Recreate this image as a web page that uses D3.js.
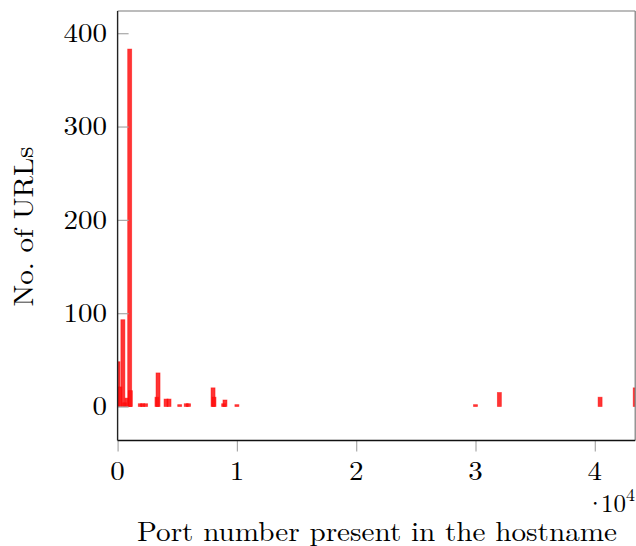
<!DOCTYPE html>
<html>
<head>
<meta charset="utf-8">
<script src="https://cdn.jsdelivr.net/npm/d3@7"></script>
<style>
  html, body { margin: 0; padding: 0; background: #fff; }
  svg { display: block; }
  text { font-family: "Latin Modern Roman", "CMU Serif", "Liberation Serif", serif; fill: #000; }
</style>
</head>
<body>
<svg id="chart" width="636" height="546"></svg>
<script>
// Port numbers seen in hostnames and how many URLs use each
const ports  = [34, 200, 443, 600, 790, 1014, 1070, 1900, 2100, 2350, 3300, 3389, 4060, 4310, 5205, 5750, 5950, 8000, 8080, 8888, 9000, 10000, 30000, 32000, 40443, 43386];
const counts = [48, 21, 93, 4, 9, 383, 17, 3, 3, 3, 10, 36, 8, 8, 2, 3, 3, 20, 10, 3, 7, 2, 2, 15, 10, 20];
const xTicks = [0, 10000, 20000, 30000, 40000];
const yTicks = [0, 100, 200, 300, 400];
const xDomain = [0, 43386];
const yDomain = [-36.4, 423.8];

const data = ports.map((p, i) => ({ port: p, count: counts[i] }));

const svg = d3.select("#chart");
const plot = { left: 117.6, right: 635.2, top: 11, bottom: 440.5 };

const x = d3.scaleLinear().domain(xDomain).range([plot.left, plot.right]);
const y = d3.scaleLinear().domain(yDomain).range([plot.bottom, plot.top]);

svg.append("defs").append("clipPath").attr("id", "plot-clip")
  .append("rect")
  .attr("x", plot.left).attr("y", plot.top)
  .attr("width", plot.right - plot.left).attr("height", plot.bottom - plot.top);

// bars
const barW = 4;
svg.append("g").attr("clip-path", "url(#plot-clip)")
  .selectAll("rect").data(data).join("rect")
  .attr("x", d => x(d.port) - barW / 2)
  .attr("y", d => y(d.count))
  .attr("width", barW)
  .attr("height", d => y(0) - y(d.count))
  .attr("fill", "#ff1010")
  .attr("fill-opacity", 0.85)
  .attr("stroke", "#ff0000")
  .attr("stroke-opacity", 0.55)
  .attr("stroke-width", 0.8);

// frame: top and right lighter
svg.append("line").attr("x1", plot.left).attr("x2", plot.right).attr("y1", plot.top).attr("y2", plot.top)
  .attr("stroke", "#7a7a7a").attr("stroke-width", 1.2);
svg.append("line").attr("x1", plot.right).attr("x2", plot.right).attr("y1", plot.top).attr("y2", plot.bottom)
  .attr("stroke", "#7a7a7a").attr("stroke-width", 1.2);

// y axis: ticks pointing into the plot
const yAxis = d3.axisRight(y).tickValues(yTicks).tickSize(11).tickFormat("");
const gy = svg.append("g").attr("transform", `translate(${plot.left},0)`).call(yAxis);
gy.select(".domain").remove();
gy.selectAll(".tick line").attr("stroke", "#a8a8a8").attr("stroke-width", 1.2);
svg.append("g").selectAll("text").data(yTicks).join("text")
  .attr("x", 107).attr("y", d => y(d)).attr("dy", "0.34em")
  .attr("text-anchor", "end").attr("font-size", 26)
  .attr("textLength", d => String(d).length * 14.5).attr("lengthAdjust", "spacingAndGlyphs")
  .text(d => d);

// x axis: ticks pointing out
const xAxis = d3.axisBottom(x).tickValues(xTicks).tickSize(11).tickFormat("");
const gx = svg.append("g").attr("transform", `translate(0,${plot.bottom})`).call(xAxis);
gx.select(".domain").remove();
gx.selectAll(".tick line").attr("stroke", "#a8a8a8").attr("stroke-width", 1.2);
svg.append("g").selectAll("text").data(xTicks).join("text")
  .attr("x", d => x(d)).attr("y", 480)
  .attr("text-anchor", "middle").attr("font-size", 26)
  .attr("textLength", 14.5).attr("lengthAdjust", "spacingAndGlyphs")
  .text(d => d / 10000);

// left and bottom frame lines
svg.append("line").attr("x1", plot.left).attr("x2", plot.right).attr("y1", plot.bottom).attr("y2", plot.bottom)
  .attr("stroke", "#111").attr("stroke-width", 1.4);
svg.append("line").attr("x1", plot.left).attr("x2", plot.left).attr("y1", plot.top).attr("y2", plot.bottom)
  .attr("stroke", "#222").attr("stroke-width", 1.4);

// scale factor label
const sf = svg.append("text").attr("x", 635).attr("y", 512).attr("text-anchor", "end").attr("font-size", 25);
sf.append("tspan").text("·");
sf.append("tspan").attr("dx", -4).text("10");
sf.append("tspan").attr("font-size", 18).attr("dy", -11).text("4");

// axis titles
svg.append("text").attr("x", 377).attr("y", 541)
  .attr("text-anchor", "middle").attr("font-size", 27)
  .attr("textLength", 480).attr("lengthAdjust", "spacingAndGlyphs")
  .text("Port number present in the hostname");
svg.append("text").attr("transform", "translate(33,226.5) rotate(-90)")
  .attr("text-anchor", "middle").attr("font-size", 27)
  .attr("textLength", 160).attr("lengthAdjust", "spacingAndGlyphs")
  .text("No. of URLs");
</script>
</body>
</html>
